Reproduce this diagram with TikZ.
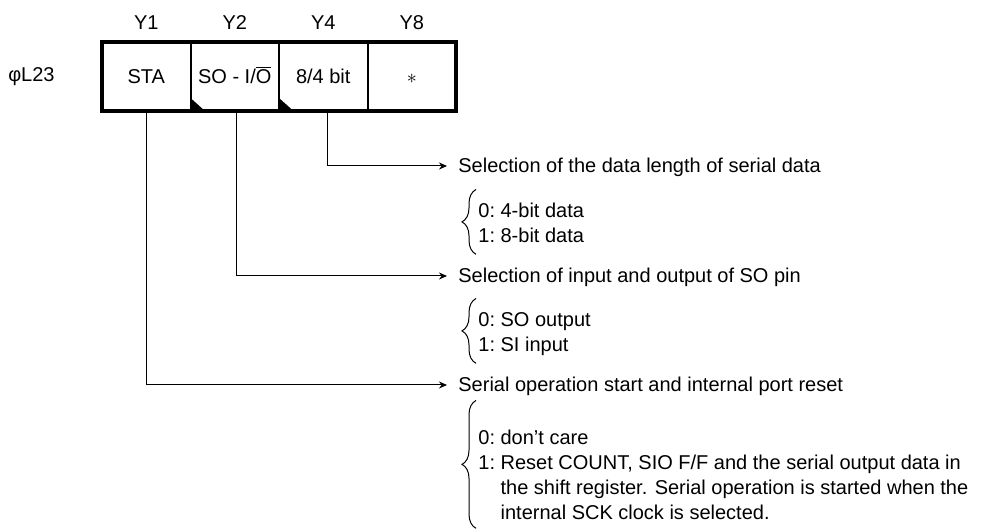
\documentclass[tikz,border=0pt]{standalone}
\usepackage{fontspec}
\setmainfont{Liberation Sans}
\usetikzlibrary{arrows.meta, positioning, decorations.pathreplacing}
\tikzset{
  >=Stealth,
  regcell/.style={draw, line width=1pt, minimum width=44.25pt, minimum height=34.5pt, inner sep=0pt, outer sep=0pt, text height=7.2pt, text depth=0pt},
  bitname/.style={inner sep=0pt},
  cornermark/.style={fill=black},
  selarrow/.style={-{Stealth[length=4pt, width=3.5pt]}, line width=0.5pt},
  seltitle/.style={anchor=west, inner xsep=5.5pt, inner ysep=0pt, text height=7pt, text depth=0pt},
  optlist/.style={anchor=north west, inner xsep=1pt, inner ysep=0pt, font=\fontsize{10}{12.5}\selectfont},
  optbrace/.style={decorate, decoration={brace, amplitude=7pt}, line width=0.5pt}
}

\begin{document}
\begin{tikzpicture}[x=0.5pt, y=-0.5pt, font=\fontsize{10}{12}\selectfont]
    \useasboundingbox (0,0) rectangle (987,529);
    % register cells
    \node[regcell] (sta) at (146.25,76.5) {STA};
    \node[regcell, right=0pt of sta] (soio) {SO - I/$\overline{\mbox{O}}$};
    \node[regcell, right=0pt of soio] (bitlen) {8/4 bit};
    \node[regcell, right=0pt of bitlen] (spare) {$\ast$};
    \draw[line width=2pt] (sta.north west) rectangle (spare.south east);
    \fill[cornermark] (soio.south west) -- ++(0,-13) -- ++(14.5,13) -- cycle;
    \fill[cornermark] (bitlen.south west) -- ++(0,-13) -- ++(14.5,13) -- cycle;
    % bit names
    \node[bitname, above=5.9pt of sta] (y1) {Y1};
    \node[bitname, above=5.9pt of soio] (y2) {Y2};
    \node[bitname, above=5.9pt of bitlen] (y4) {Y4};
    \node[bitname, above=5.9pt of spare] (y8) {Y8};
    \node[bitname, left=23.5pt of sta] (port) {φL23};
    % descriptions
    \node[seltitle] (ttllen) at (447,166) {Selection of the data length of serial data};
    \node[optlist] (lstlen) at (476,199.5) {\begin{tabular}{@{}l@{\ }l@{}}
        0: & 4-bit data\\
        1: & 8-bit data
    \end{tabular}};
    \node[seltitle] (ttlso) at (447,276) {Selection of input and output of SO pin};
    \node[optlist] (lstso) at (476,308.5) {\begin{tabular}{@{}l@{\ }l@{}}
        0: & SO output\\
        1: & SI input
    \end{tabular}};
    \node[seltitle] (ttlsta) at (447,385) {Serial operation start and internal port reset};
    \node[optlist] (lststa) at (476,426.5) {\begin{tabular}{@{}l@{\ }l@{}}
        0: & don’t care\\
        1: & Reset COUNT, SIO F/F and the serial output data in\\
           & the shift register. Serial operation is started when the\\
           & internal SCK clock is selected.
    \end{tabular}};
    \draw[optbrace] ([yshift=-2pt]lstlen.south west) -- ([yshift=5pt]lstlen.north west);
    \draw[optbrace] ([yshift=-2pt]lstso.south west) -- ([yshift=5pt]lstso.north west);
    \draw[optbrace] ([yshift=-0.5pt]lststa.south west) -- ([yshift=13pt]lststa.north west);
    % connectors
    \draw[selarrow] ([xshift=2pt]bitlen.south) |- (ttllen.west);
    \draw[selarrow] ([xshift=1pt]soio.south) |- (ttlso.west);
    \draw[selarrow] (sta.south) |- (ttlsta.west);
\end{tikzpicture}
\end{document}
